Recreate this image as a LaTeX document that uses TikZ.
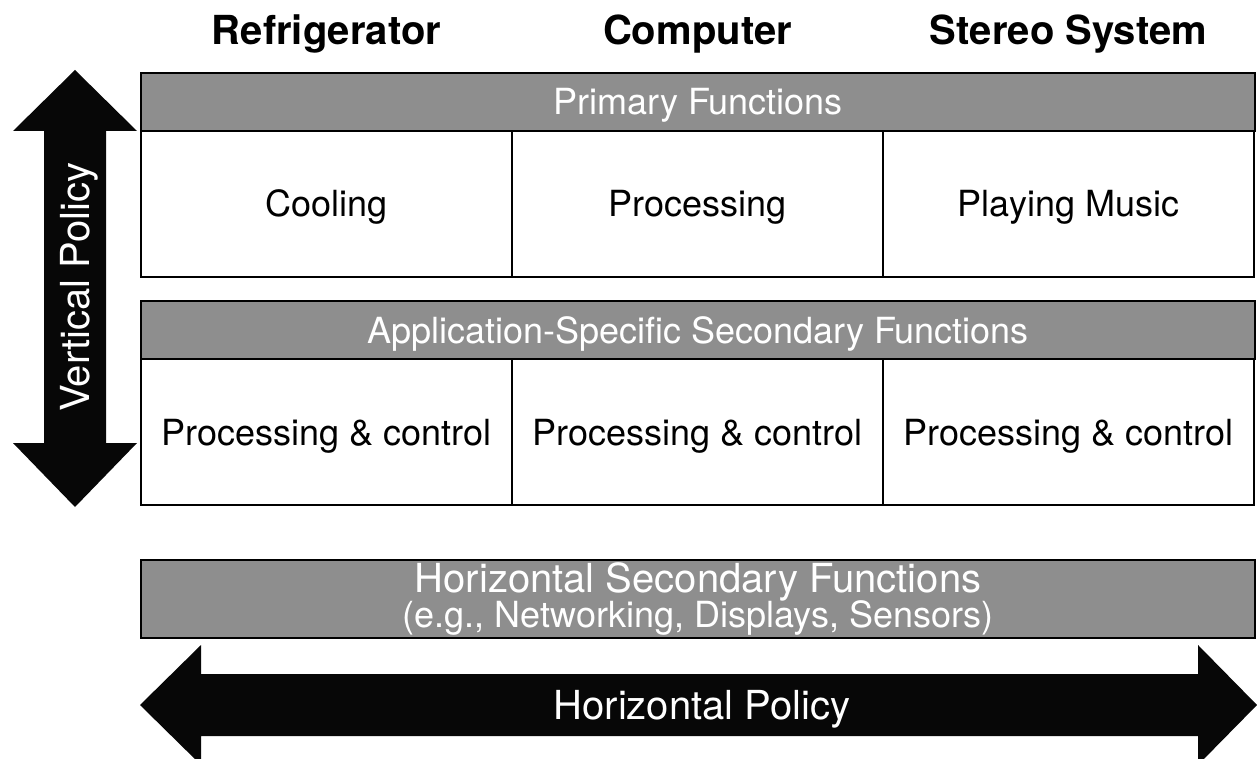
\documentclass[tikz,border=0pt]{standalone}
\usepackage{fontspec}
\setmainfont{TeX Gyre Heros}
\usepackage{tikz}
\usetikzlibrary{positioning}

\definecolor{headgray}{RGB}{142,142,142}
\definecolor{policyblack}{RGB}{7,7,7}

\tikzset{
  cell/.style={draw, line width=1.6pt, minimum width=371pt, minimum height=146pt, inner sep=0pt,
    outer sep=0pt, text height=26pt, text depth=0pt, font=\fontsize{36}{40}\selectfont},
  header/.style={draw, line width=1.6pt, fill=headgray, text=white, minimum width=1114pt,
    minimum height=58pt, inner sep=0pt, outer sep=0pt, text height=26pt, text depth=0pt,
    font=\fontsize{36}{40}\selectfont},
  devtitle/.style={font=\bfseries\fontsize{40}{44}\selectfont, inner sep=0pt, anchor=base},
  policy/.style={fill=policyblack},
  policytext/.style={text=white, inner sep=0pt, text height=29pt, text depth=0pt,
    font=\fontsize{40}{44}\selectfont}
}

\begin{document}
\begin{tikzpicture}[x=1pt,y=-1pt]
\useasboundingbox (0,0) rectangle (1257,759);

% primary functions
\node[header, anchor=north west] (prim) at (141,73) {Primary Functions};
\node[cell, below right=0pt and 0pt of prim.south west] (cool) {Cooling};
\node[cell, right=0pt of cool] (proc)  {Processing};
\node[cell, right=0pt of proc] (music) {Playing Music};

% device titles
\node[devtitle] (fridge) at (cool |- 0,45)  {Refrigerator};
\node[devtitle] (pc)     at (proc |- 0,45)  {Computer};
\node[devtitle] (stereo) at (music |- 0,45) {Stereo System};

% application-specific secondary functions
\node[header, below right=24pt and 0pt of cool.south west] (appl) {Application-Specific Secondary Functions};
\node[cell, below right=0pt and 0pt of appl.south west] (ctrlA) {Processing \& control};
\node[cell, right=0pt of ctrlA] (ctrlB) {Processing \& control};
\node[cell, right=0pt of ctrlB] (ctrlC) {Processing \& control};

% horizontal secondary functions
\node[header, minimum height=78pt, text height=, text depth=, align=center,
      below right=55pt and 0pt of ctrlA.south west] (horiz)
  {\fontsize{40}{40}\selectfont Horizontal Secondary Functions\\[-5pt]
   \fontsize{36}{40}\selectfont (e.g., Networking, Displays, Sensors)};

% vertical policy
\path[policy] (75,70) -- (137,131) -- (106,131) -- (106,443) -- (137,443) -- (75,507)
  -- (13,443) -- (44,443) -- (44,131) -- (13,131) -- cycle;
\node[policytext, rotate=90] (vpol) at (75,287) {Vertical Policy};

% horizontal policy
\path[policy] (140,705) -- (201,645) -- (201,674) -- (1198,674) -- (1198,645) -- (1257,705)
  -- (1198,765) -- (1198,736) -- (201,736) -- (201,765) -- cycle;
\node[policytext] (hpol) at (702,705) {Horizontal Policy};
\end{tikzpicture}
\end{document}
